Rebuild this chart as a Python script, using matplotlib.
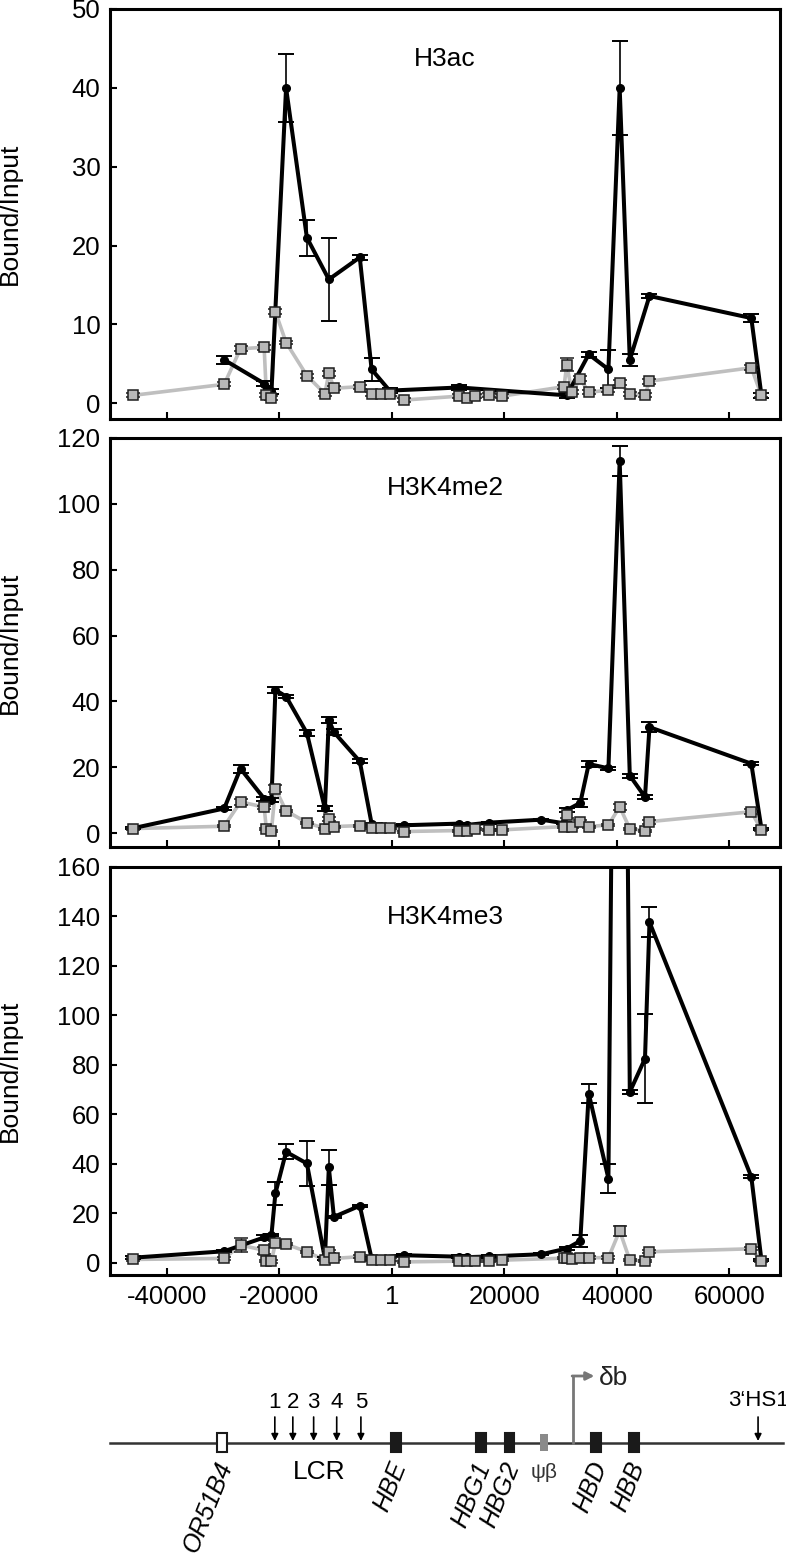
import numpy as np
import matplotlib
matplotlib.use('Agg')
import matplotlib.pyplot as plt
from matplotlib.patches import Rectangle

plt.rcParams['font.family'] = ['Liberation Sans', 'DejaVu Sans']

nan = np.nan
# amplicon positions (bp relative to HBE region)
positions = [-46000, -29800, -26900, -22700, -22300, -21400, -20700, -18800, -15100,
             -11900, -11200, -10300, -5700, -3600, -2000, -400, 2100, 12000, 13300,
             14800, 17300, 19600, 26600, 30600, 31100, 32000, 33500, 35000, 38500,
             40500, 42300, 45000, 45800, 63900, 65700]

# H3ac
h3ac_black = [nan, 5.5, nan, 2.5, nan, 1.5, nan, 40.0, 21.0, nan, 15.7, nan, 18.5, 4.3,
              nan, 1.6, nan, 2.0, nan, nan, nan, nan, nan, nan, 1.0, nan, nan, 6.2, 4.3,
              40.0, 5.5, nan, 13.6, 10.8, 1.0]
h3ac_black_err = [0.3, 0.5, 0.3, 0.3, 0.3, 0.3, 0.3, 4.3, 2.3, 0.3, 5.3, 0.3, 0.3, 1.5,
                  0.3, 0.3, 0.3, 0.3, 0.3, 0.3, 0.3, 0.3, 0.3, 0.3, 0.3, 0.3, 0.3, 0.3, 2.4,
                  6.0, 0.8, 0.3, 0.3, 0.5, 0.3]
h3ac_gray = [1.0, 2.4, 6.9, 7.1, 1.0, 0.7, 11.6, 7.7, 3.5, 1.2, 3.8, 1.9, 2.1, 1.2, 1.2,
             1.2, 0.4, 0.9, 0.7, 0.9, 1.0, 0.9, nan, 2.1, 4.9, 1.4, 3.1, 1.4, 1.65, 2.6,
             1.2, 1.0, 2.8, 4.5, 1.0]
h3ac_gray_err = [0.25, 0.25, 0.3, 0.3, 0.25, 0.25, 0.3, 0.25, 0.25, 0.25, 0.3, 0.25, 0.25,
                 0.25, 0.25, 0.25, 0.25, 0.25, 0.25, 0.25, 0.25, 0.25, 0.25, 0.25, 0.8,
                 0.25, 0.3, 0.25, 0.25, 0.3, 0.25, 0.25, 0.3, 0.3, 0.25]

# H3K4me2
h3k4me2_black = [1.5, 7.5, 19.6, 10.5, nan, 10.0, 43.5, 41.5, 30.4, 7.5, 34.4, 30.7, 21.8,
                 2.9, 2.1, nan, 2.4, 2.9, 2.5, nan, 3.2, nan, 4.1, 3.0, 7.0, nan, 9.2,
                 21.0, 19.7, 113.0, 17.5, 11.0, 32.2, 21.1, 1.4]
h3k4me2_black_err = [0.3, 0.5, 1.2, 0.6, 0.3, 0.6, 1.0, 0.5, 0.8, 0.8, 1.0, 0.8, 0.6, 0.3,
                     0.3, 0.3, 0.3, 0.3, 0.3, 0.3, 0.3, 0.3, 0.3, 0.3, 0.5, 0.3, 1.2, 0.8,
                     0.5, 4.5, 0.6, 0.6, 1.5, 0.5, 0.3]
h3k4me2_gray = [1.4, 2.1, 9.5, 7.9, 1.2, 0.8, 13.5, 6.8, 3.2, 1.4, 4.4, 2.0, 2.3, 1.7, 1.5,
                1.5, 0.5, 0.8, 0.8, 1.2, 1.0, 1.0, nan, 2.0, 5.5, 2.0, 3.5, 2.0, 2.5, 8.0,
                1.4, 0.7, 3.5, 6.5, 1.0]
h3k4me2_gray_err = [0.3, 0.3, 1.0, 0.5, 0.3, 0.3, 1.0, 0.3, 0.3, 0.3, 0.6, 0.3, 0.3, 0.3,
                    0.3, 0.3, 0.3, 0.3, 0.3, 0.3, 0.3, 0.3, 0.3, 0.3, 1.0, 0.3, 0.6, 0.3,
                    0.3, 1.0, 0.3, 0.3, 0.6, 0.8, 0.3]

# H3K4me3
h3k4me3_black = [2.0, 4.6, nan, 10.2, nan, 11.2, 28.0, 44.8, 40.1, 1.7, 38.5, 18.5, 23.0,
                 1.7, nan, nan, 3.0, 2.4, 2.2, nan, 2.5, nan, 3.4, nan, 5.7, nan, 8.8,
                 68.4, 34.0, 550.0, 69.0, 82.5, 137.7, 34.7, 1.0]
h3k4me3_black_err = [0.5, 0.5, 0.5, 1.0, 0.5, 0.5, 4.5, 3.0, 9.0, 0.5, 7.0, 0.5, 0.5, 0.5,
                     0.5, 0.5, 0.5, 0.5, 0.5, 0.5, 0.5, 0.5, 0.5, 0.5, 0.5, 0.5, 2.5, 3.7,
                     5.7, 5.0, 1.0, 18.0, 6.0, 0.6, 0.5]
h3k4me3_gray = [1.3, 1.7, 7.1, 5.0, 0.6, 0.5, 8.0, 7.5, 4.4, 1.0, 4.4, 1.7, 2.4, 1.0, 1.0,
                1.2, 0.3, 0.6, 0.6, 0.7, 0.7, 1.0, nan, 1.8, 2.0, 1.5, 2.0, 2.0, 2.0, 12.9,
                1.0, 0.7, 4.4, 5.6, 0.6]
h3k4me3_gray_err = [0.5, 0.5, 3.0, 1.5, 0.5, 0.5, 0.6, 0.5, 0.5, 0.5, 0.6, 0.5, 0.5, 0.5,
                    0.5, 0.5, 0.5, 0.5, 0.5, 0.5, 0.5, 0.5, 0.5, 0.5, 0.5, 0.5, 0.5, 0.5,
                    0.5, 2.0, 0.5, 0.5, 0.7, 0.6, 0.5]

panel_titles = ["H3ac", "H3K4me2", "H3K4me3"]
y_label = "Bound/Input"
x_ticks = [-40000, -20000, 1, 20000, 40000, 60000]
x_tick_labels = ["-40000", "-20000", "1", "20000", "40000", "60000"]
y_ticks = [[0, 10, 20, 30, 40, 50],
           [0, 20, 40, 60, 80, 100, 120],
           [0, 20, 40, 60, 80, 100, 120, 140, 160]]
y_limits = [(-2, 50), (-4.2, 120), (-5, 160)]
x_limits = (-50100, 69000)

# locus map
gene_names = ["OR51B4", "HBE", "HBG1", "HBG2", "HBD", "HBB"]
gene_pos = [-30200, 700, 15800, 20900, 36300, 43000]
gene_open = [True, False, False, False, False, False]
pseudo_name = "ψβ"
pseudo_pos = 27100
hs_labels = ["1", "2", "3", "4", "5"]
hs_pos = [-20800, -17600, -13900, -9800, -5500]
hs3_label = "3\u2018HS1"
hs3_pos = 65100
lcr_label = "LCR"
lcr_pos = -13000
db_label = "δb"
db_pos = 32200

W, H = 786, 1559
fig = plt.figure(figsize=(W / 100, H / 100), dpi=100)


def px_axes(l, t, r, b):
    return fig.add_axes([l / W, 1 - b / H, (r - l) / W, (b - t) / H])


panel_boxes = [(110, 9, 780, 419), (110, 438, 780, 847), (110, 867, 780, 1275)]
series = [(h3ac_black, h3ac_black_err, h3ac_gray, h3ac_gray_err),
          (h3k4me2_black, h3k4me2_black_err, h3k4me2_gray, h3k4me2_gray_err),
          (h3k4me3_black, h3k4me3_black_err, h3k4me3_gray, h3k4me3_gray_err)]

x = np.array(positions, dtype=float)
for i, (box, (bk, bke, gr, gre)) in enumerate(zip(panel_boxes, series)):
    ax = px_axes(*box)
    bk = np.array(bk, float); bke = np.array(bke, float)
    gr = np.array(gr, float); gre = np.array(gre, float)
    bm = ~np.isnan(bk)
    gm = ~np.isnan(gr)
    ax.plot(x[gm], gr[gm], color='#bfbfbf', lw=2.6, zorder=2)
    ax.errorbar(x[bm], bk[bm], yerr=bke[bm], fmt='-o', color='black', lw=2.9, ms=5.5,
                capsize=5.5, elinewidth=1.2, capthick=1.4, zorder=3)
    ax.errorbar(x[gm], gr[gm], yerr=gre[gm], fmt='s', mfc='#b8b8b8', mec='#1e1e1e',
                mew=1.1, ms=6.5, ecolor='#1e1e1e', capsize=4.8, elinewidth=1.0,
                capthick=1.3, zorder=4)
    ax.set_xlim(*x_limits)
    ax.set_ylim(*y_limits[i])
    ax.set_yticks(y_ticks[i])
    ax.set_xticks(x_ticks)
    if i == 2:
        ax.set_xticklabels(x_tick_labels)
    else:
        ax.set_xticklabels([])
    ax.tick_params(direction='in', length=5, width=1.5, labelsize=18.5, pad=7)
    for s in ax.spines.values():
        s.set_linewidth(2.2)
    ax.set_ylabel(y_label, fontsize=19)
    ax.yaxis.set_label_coords(-0.131, 0.5)
    ax.text(0.5, 0.878, panel_titles[i], transform=ax.transAxes, ha='center',
            va='center', fontsize=19)

# locus diagram (y in pixel rows for layout)
dax = px_axes(110, 1350, 780, 1559)
dax.set_xlim(*x_limits)
dax.set_ylim(1559, 1350)
dax.axis('off')
line_y = 1443
dax.plot([x_limits[0], x_limits[1] + 500], [line_y, line_y], color='#333333', lw=1.8,
         zorder=1, clip_on=False)
bw = 1700
for name, pos, op in zip(gene_names, gene_pos, gene_open):
    dax.add_patch(Rectangle((pos - bw / 2, 1433), bw, 19,
                            facecolor='white' if op else '#1a1a1a',
                            edgecolor='#1a1a1a', lw=1.5, zorder=3))
    dax.text(pos + 700, 1463, name, rotation=68, rotation_mode='anchor', ha='right',
             va='center', fontsize=18, style='italic')
dax.add_patch(Rectangle((pseudo_pos - 1400 / 2, 1434), 1400, 17, facecolor='#8a8a8a',
                        edgecolor='none', zorder=3))
dax.text(pseudo_pos, 1472, pseudo_name, ha='center', va='center', fontsize=15,
         color='#333333')
dax.text(lcr_pos, 1472, lcr_label, ha='center', va='center', fontsize=19)
for lab, pos in zip(hs_labels, hs_pos):
    dax.annotate('', xy=(pos, 1441), xytext=(pos, 1417),
                 arrowprops=dict(arrowstyle='-|>', color='black', lw=1.2,
                                 mutation_scale=10, shrinkA=0, shrinkB=0))
    dax.text(pos, 1402, lab, ha='center', va='center', fontsize=16)
dax.annotate('', xy=(hs3_pos, 1441), xytext=(hs3_pos, 1417),
             arrowprops=dict(arrowstyle='-|>', color='black', lw=1.2,
                             mutation_scale=10, shrinkA=0, shrinkB=0))
dax.text(hs3_pos, 1400, hs3_label, ha='center', va='center', fontsize=16, clip_on=False)
# delta-beta transcript start
dax.plot([db_pos, db_pos], [line_y, 1376], color='#777777', lw=2.0, zorder=2)
dax.annotate('', xy=(db_pos + 3800, 1376), xytext=(db_pos - 150, 1376),
             arrowprops=dict(arrowstyle='-|>', color='#777777', lw=2.0,
                             mutation_scale=12, shrinkA=0, shrinkB=0))
dax.text(db_pos + 4600, 1378, db_label, ha='left', va='center', fontsize=19,
         color='#222222')

fig.savefig('out.png', dpi=100)
